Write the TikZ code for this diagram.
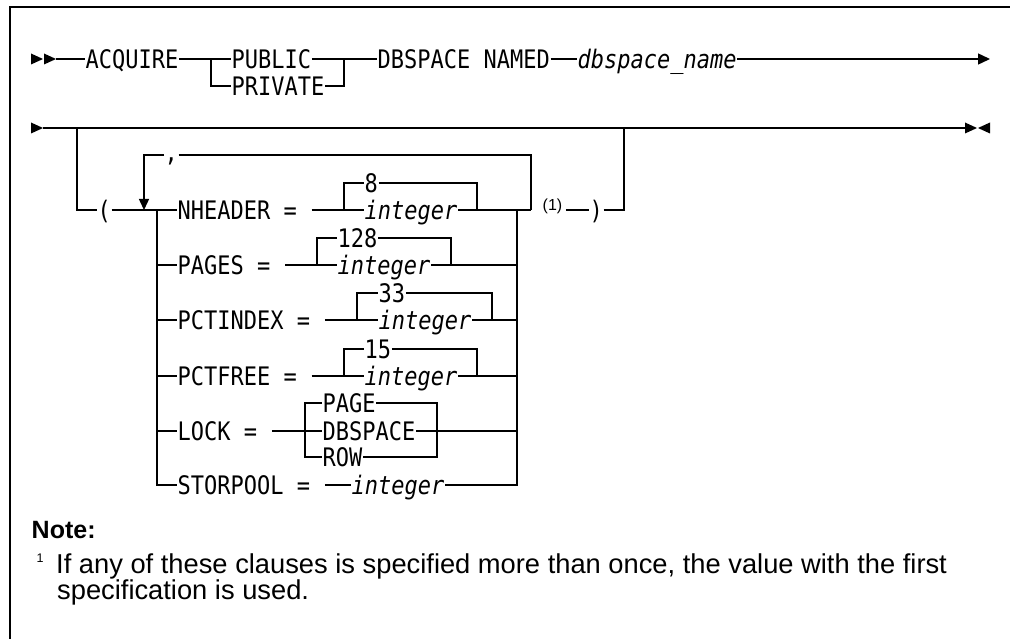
\documentclass[tikz,border=0pt]{standalone}
\usepackage{fontspec}
\setmainfont{Liberation Sans}
\newfontfamily\synfont{DejaVu Sans Mono}[FakeStretch=0.8625]
\usetikzlibrary{arrows.meta}

\begin{document}
\begin{tikzpicture}[x=1pt, y=-1pt, line width=1.4pt,
  kw/.style={font={\fontsize{25.5}{28}\synfont}, inner sep=0pt, text height=18.4pt, text depth=0pt, anchor=west},
  var/.style={kw, font={\fontsize{25.5}{28}\synfont\itshape}},
  notetxt/.style={anchor=base west, inner sep=0pt, font=\fontsize{27.3}{30}\selectfont},
  lblgap/.style={shorten <=14pt},
  endtip/.style={-{Triangle[length=12pt,width=11pt]}},
  looptip/.style={-{Triangle[length=11pt,width=10pt]}},
  rtri/.pic={\fill (0,-5.5) -- (12,0) -- (0,5.5) -- cycle;},
  ltri/.pic={\fill (12,-5.5) -- (0,0) -- (12,5.5) -- cycle;}
]
\useasboundingbox (0,0) rectangle (1010,639);

% Frame
\draw[line width=1.5pt] (10,639) -- (10,7) -- (1010,7);

% First line
\pic at (31,59) {rtri};
\pic at (44,59) {rtri};
\coordinate (s1) at (56,59);
\coordinate (b1L) at (211,59);
\coordinate (b1R) at (344,59);
\coordinate (e1) at (990,59);
\node[kw] (acq) at (85,59) {ACQUIRE};
\node[kw] (pub) at (231,59) {PUBLIC};
\node[kw] (priv) at (231,86) {PRIVATE};
\node[kw] (dbs) at (377,59) {DBSPACE NAMED};
\node[var] (dbn) at (577,59) {dbspace\_name};

\draw (s1) -- (acq.west);
\draw (acq.east) -- (pub.west);
\draw (b1L) |- (priv.west);
\draw (pub.east) -- (dbs.west);
\draw (priv.east) -| (b1R);
\draw (dbs.east) -- (dbn.west);
\draw[endtip] (dbn.east) -- (e1);

% Second line
\pic at (31,128) {rtri};
\coordinate (s2) at (43,128);
\coordinate (e2) at (965,128);
\draw (s2) -- (e2);
\pic at (965,128) {rtri};
\pic at (978,128) {ltri};

% Optional group with repeat loop
\coordinate (o2L) at (77,128);
\coordinate (o2R) at (624,128);
\coordinate (rpL) at (144,210);
\coordinate (rpR) at (531,210);
\coordinate (cL) at (157,210);
\coordinate (cR) at (517,210);
\node[kw] (lp) at (97,210) {(};
\node[kw] (rp) at (589,210) {)};
\node[kw] (comma) at (164,152) {,};
\node[anchor=base west, inner sep=0pt, font=\fontsize{16}{18}\selectfont] (fnref) at (542,211) {(1)};

\draw (o2L) |- (lp.west);
\draw (rp.east) -| (o2R);
\draw[looptip] (comma.west |- 0,155) -| (rpL);
\draw (comma.east |- 0,155) -| (rpR);
\draw[shorten <=3pt] (fnref.east |- rp.west) -- (rp.west);

% Clauses
\node[kw] (nhdr) at (177,210) {NHEADER =};
\node[kw] (pages) at (177,265) {PAGES =};
\node[kw] (pctix) at (177,320) {PCTINDEX =};
\node[kw] (pctfr) at (177,376) {PCTFREE =};
\node[kw] (lock) at (177,431) {LOCK =};
\node[kw] (stor) at (177,485) {STORPOOL =};

\draw (lp.east) -- (nhdr.west);
\draw (cL) |- (stor.west);
\foreach \n in {pages,pctix,pctfr,lock}
  \draw (cL |- \n.west) -- (\n.west);

% Defaults
\foreach \r/\y/\d/\a/\t/\b in {nhdr/210/8/344/364/477, pages/265/128/317/337/451,
                               pctix/320/33/357/378/492, pctfr/376/15/344/364/477}{
  \coordinate (\r-L) at (\a,\y);
  \coordinate (\r-R) at (\b,\y);
  \node[kw] (\r-def) at (\t,\y-27) {\d};
  \node[var] (\r-int) at (\t,\y) {integer};
  \draw[lblgap] (\r.east) -- (\r-L);
  \draw (\r-L) |- (\r-def.west);
  \draw (\r-def.east) -| (\r-R);
  \draw (\r-L) -- (\r-int.west);
  \draw (\r-int.east) -- (\r-R);
}
\draw (nhdr-R) -- (rpR);
\foreach \n in {pages,pctix,pctfr}
  \draw (\n-R) -- (cR |- \n-R);

% LOCK choices
\coordinate (lkL) at (305,431);
\coordinate (lkR) at (437,431);
\node[kw] (lkpage) at (322,403) {PAGE};
\node[kw] (lkdbs) at (322,431) {DBSPACE};
\node[kw] (lkrow) at (322,457) {ROW};
\draw[lblgap] (lock.east) -- (lkL);
\draw (lkL) -- (lkdbs.west);
\draw (lkpage.west) -| (lkL |- lkrow.west) -- (lkrow.west);
\draw (lkpage.east) -| (lkR |- lkrow.east) -- (lkrow.east);
\draw (lkdbs.east) -- (cR |- lkdbs.east);

% STORPOOL
\node[var] (stor-int) at (351,485) {integer};
\draw[lblgap] (stor.east) -- (stor-int.west);
\draw (stor-int.east) -| (cR);

% Note
\node[anchor=base west, inner sep=0pt, font=\fontsize{25}{28}\selectfont\bfseries] (note) at (31,538) {Note:};
\node[anchor=base west, inner sep=0pt, font=\fontsize{12.5}{14}\selectfont] (fnmark) at (36,562) {1};
\node[notetxt] (fnl1) at (55.5,573) {If any of these clauses is specified more than once, the value with the first};
\node[notetxt] (fnl2) at (56.5,599) {specification is used.};

\end{tikzpicture}
\end{document}
